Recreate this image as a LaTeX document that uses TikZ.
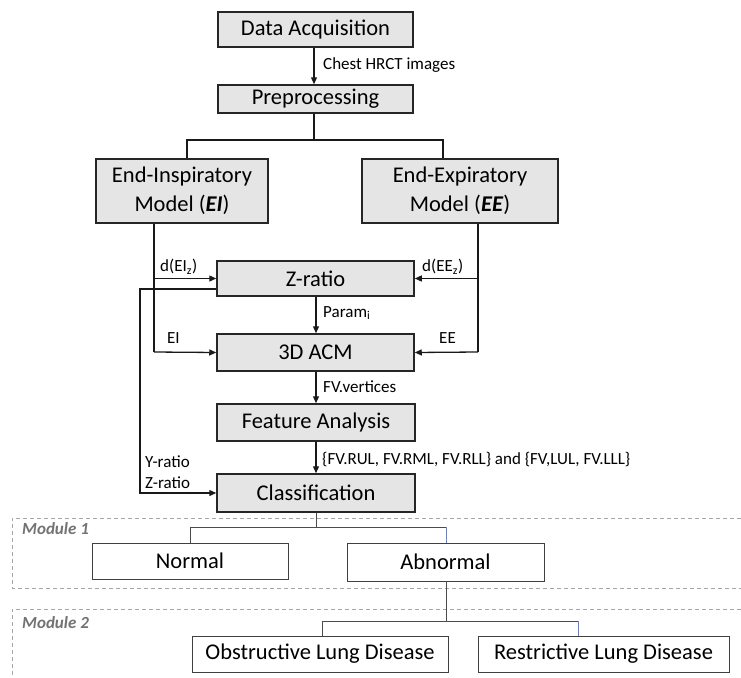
\documentclass[tikz,border=0pt]{standalone}
\usepackage{fontspec}
\setmainfont{Carlito}
\usetikzlibrary{arrows.meta}

\tikzset{
  procbox/.style={draw=black!85, line width=1.5pt, fill=black!10, inner sep=0pt,
    align=center, font=\fontsize{22.5}{29}\selectfont},
  outbox/.style={draw=black!75, line width=0.9pt, fill=white, inner sep=0pt,
    align=center, font=\fontsize{22.5}{29}\selectfont},
  link/.style={draw=black!90, line width=1.3pt},
  flow/.style={link, -{Triangle[length=7pt,width=6pt]}},
  tree/.style={draw=black!70, line width=0.9pt},
  treeblue/.style={draw={rgb,255:red,110;green,130;blue,185}, line width=0.7pt},
  lbl/.style={anchor=west, inner sep=0pt, font=\fontsize{17}{20}\selectfont},
  modlbl/.style={anchor=west, inner sep=0pt, text=black!55,
    font=\fontsize{17}{20}\selectfont\bfseries\itshape},
  modframe/.style={draw=black!35, line width=0.8pt, dash pattern=on 4pt off 3pt}
}

\begin{document}
\begin{tikzpicture}[x=1pt, y=-1pt]
\useasboundingbox (0,0) rectangle (741,677);

% module frames (open towards the right and bottom edges)
\draw[modframe] (741,518) -- (12,518) -- (12,588) -- (741,588);
\draw[modframe] (741,609) -- (12,609) -- (12,677);
\node[modlbl] (m1) at (22,529) {Module 1};
\node[modlbl] (m2) at (22,623) {Module 2};

% processing chain
\node[procbox, minimum width=195pt, minimum height=35pt] (da)  at (315.5,29.5) {Data Acquisition};
\node[procbox, minimum width=195pt, minimum height=28pt] (pre) at (315.5,99)   {Preprocessing};
\node[procbox, minimum width=172pt, minimum height=64pt] (ei)  at (182,191)    {End-Inspiratory\\Model (\textbf{\textit{EI}})};
\node[procbox, minimum width=196pt, minimum height=64pt] (ee)  at (460,191)    {End-Expiratory\\Model (\textbf{\textit{EE}})};
\node[procbox, minimum width=197pt, minimum height=35pt] (zr)  at (315.5,278.5){Z-ratio};
\node[procbox, minimum width=197pt, minimum height=37pt] (acm) at (315.5,352.5){3D ACM};
\node[procbox, minimum width=198pt, minimum height=37pt] (fa)  at (316,422.5)  {Feature Analysis};
\node[procbox, minimum width=198pt, minimum height=38pt] (cl)  at (316,493)    {Classification};

% outcome boxes
\node[outbox, minimum width=196pt, minimum height=36pt] (nor) at (190,561)   {Normal};
\node[outbox, minimum width=197pt, minimum height=38pt] (abn) at (445.5,562) {Abnormal};
\node[outbox, minimum width=256pt, minimum height=36pt] (obs) at (320,654)   {Obstructive Lung Disease};
\node[outbox, minimum width=251pt, minimum height=36pt] (res) at (603.5,654) {Restrictive Lung Disease};

% junction points
\coordinate (split) at (314,140);
\coordinate (splitl) at (187,140);
\coordinate (splitr) at (443,140);
\coordinate (eidn) at (154,352);
\coordinate (eedn) at (478,352);
\coordinate (fbk) at (140,289);
\coordinate (m1j) at (316,527);
\coordinate (m1l) at (190,527);
\coordinate (m1r) at (446,527);
\coordinate (m2j) at (446,621);
\coordinate (m2l) at (322,621);
\coordinate (m2r) at (578,621);

% main flow
\draw[flow] (da.south -| split) -- (pre.north -| split);
\draw[link] (pre.south -| split) -- (split);
\draw[link] (ei.north -| splitl) -- (splitl) -- (splitr) -- (ee.north -| splitr);

\draw[link] (ei.south -| eidn) -- (eidn);
\draw[flow] (eidn |- zr.west) -- (zr.west);
\draw[flow] (eidn) -- (acm.west);
\draw[link] (ee.south -| eedn) -- (eedn);
\draw[flow] (eedn |- zr.east) -- (zr.east);
\draw[flow] (eedn) -- (acm.east);

\draw[flow] (zr.south -| m1j) -- (acm.north -| m1j);
\draw[flow] (acm.south -| m1j) -- (fa.north -| m1j);
\draw[flow] (fa.south -| m1j) -- (cl.north -| m1j);

% ratio feedback into classification
\draw[flow] (zr.west |- fbk) -- (fbk) |- (cl.west);

% outcome tree
\draw[tree] (cl.south -| m1j) -- (m1j);
\draw[tree] (nor.north -| m1l) -- (m1l) -- (m1r);
\draw[treeblue] (m1r) -- (abn.north -| m1r);
\draw[tree] (abn.south -| m2j) -- (m2j);
\draw[tree] (obs.north -| m2l) -- (m2l) -- (m2r);
\draw[treeblue] (m2r) -- (res.north -| m2r);

% connector labels
\node[lbl] (lhrct) at (323,65)  {Chest HRCT images};
\node[lbl] (ldei)  at (160,267) {d(EI\textsubscript{z})};
\node[lbl] (ldee)  at (422,267) {d(EE\textsubscript{z})};
\node[lbl] (lpar)  at (323,313) {Param\textsubscript{i}};
\node[lbl] (lei)   at (167,338) {EI};
\node[lbl] (lee)   at (439,338) {EE};
\node[lbl] (lfv)   at (323,387) {FV.vertices};
\node[lbl] (llobe) at (322,460) {\{FV.RUL, FV.RML, FV.RLL\} and \{FV,LUL, FV.LLL\}};
\node[lbl] (lyr)   at (145,462) {Y-ratio};
\node[lbl] (lzr)   at (145,483) {Z-ratio};
\end{tikzpicture}
\end{document}
